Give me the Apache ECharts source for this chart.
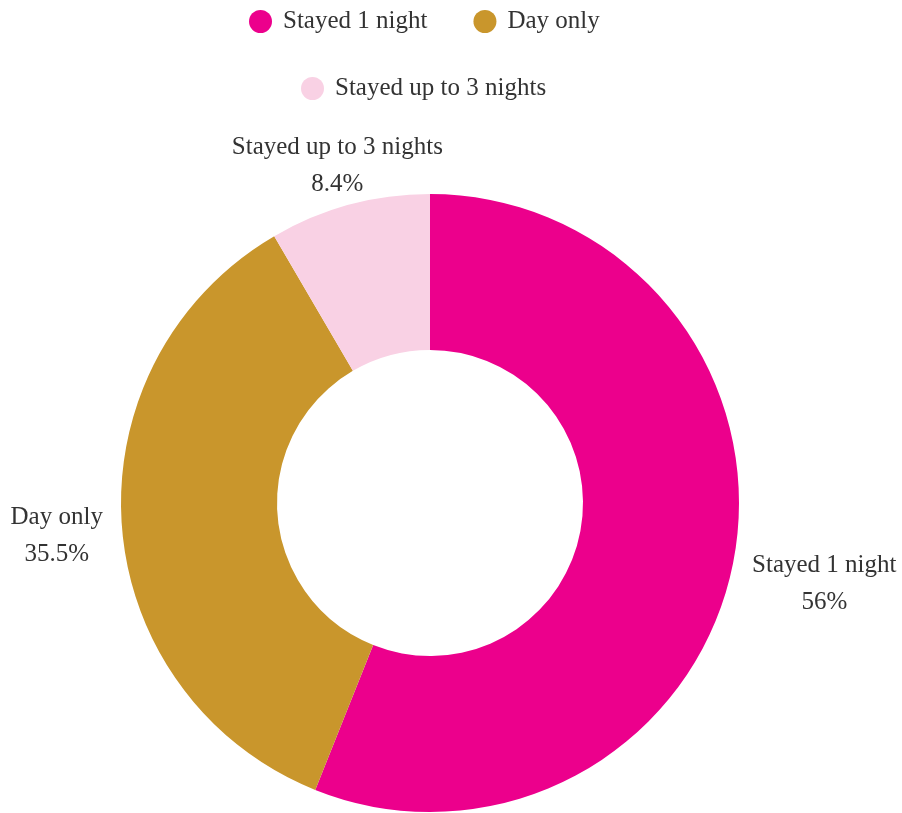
<!DOCTYPE html>
<html>
<head>
<meta charset="utf-8">
<script src="https://cdn.jsdelivr.net/npm/echarts@6/dist/echarts.min.js"></script>
<style>html,body{margin:0;padding:0;background:#fff}#c{width:902px;height:813px}</style>
</head>
<body>
<div id="c"></div>
<script>
var categories = ['Stayed 1 night', 'Day only', 'Stayed up to 3 nights'];
var values = [56, 35.5, 8.4];
var colors = ['#EC008C', '#C9962C', '#F9D1E4'];

var FONT = 'Liberation Serif';
var FONT_SIZE = 25;
var CX = 430, CY = 503, R_IN = 153, R_OUT = 309, LABEL_GAP = 19, LABEL_BASELINE_SHIFT = 5;
var LEGEND_CENTER_X = 424;
var ICON = 23, ICON_TEXT_GAP = 5, TEXT_PAD = 6, ITEM_GAP = 46, LEG_PAD = 5;

var chart = echarts.init(document.getElementById('c'));
var data = categories.map(function (c, i) {
  return { name: c, value: values[i], itemStyle: { color: colors[i] } };
});
var total = values.reduce(function (a, b) { return a + b; }, 0);
var midAngles = [];
(function () {
  var acc = 0;
  values.forEach(function (v) {
    midAngles.push((acc + v / 2) / total * Math.PI * 2);
    acc += v;
  });
})();

var ctx = document.createElement('canvas').getContext('2d');
ctx.font = FONT_SIZE + 'px "' + FONT + '"';
function rowLeft(names) {
  var w = 0;
  names.forEach(function (n, i) {
    w += ICON + ICON_TEXT_GAP + TEXT_PAD + ctx.measureText(n).width;
    if (i > 0) w += ITEM_GAP;
  });
  return Math.round(LEGEND_CENTER_X - w / 2 - LEG_PAD);
}

var legendText = { fontFamily: FONT, fontSize: FONT_SIZE, color: '#333', padding: [0, 0, 0, TEXT_PAD] };
function legend(names, top) {
  return {
    data: names, top: top, left: rowLeft(names), icon: 'circle',
    itemWidth: ICON, itemHeight: ICON, itemGap: ITEM_GAP, padding: LEG_PAD, textStyle: legendText
  };
}
chart.setOption({
  animation: false,
  legend: [legend(categories.slice(0, 2), 4), legend(categories.slice(2), 71)],
  series: [{
    type: 'pie',
    center: [CX, CY],
    radius: [R_IN, R_OUT],
    startAngle: 90,
    clockwise: true,
    data: data,
    label: {
      show: true,
      position: 'outside',
      formatter: '{b}\n{c}%',
      fontFamily: FONT,
      fontSize: FONT_SIZE,
      lineHeight: 37,
      color: '#333',
      overflow: 'none'
    },
    labelLine: { show: false, length: 10, length2: 0 },
    labelLayout: function (p) {
      var a = midAngles[p.dataIndex];
      var dx = Math.sin(a), dy = -Math.cos(a);
      var w = p.labelRect.width, h = p.labelRect.height * 0.7;
      var ex = Math.abs(dx) > 1e-6 ? (w / 2) / Math.abs(dx) : Infinity;
      var ey = Math.abs(dy) > 1e-6 ? (h / 2) / Math.abs(dy) : Infinity;
      var d = R_OUT + LABEL_GAP + Math.min(ex, ey);
      return {
        align: 'center',
        verticalAlign: 'middle',
        x: CX + dx * d,
        y: CY + dy * d + LABEL_BASELINE_SHIFT
      };
    },
    emphasis: { disabled: true }
  }]
});
</script>
</body>
</html>
